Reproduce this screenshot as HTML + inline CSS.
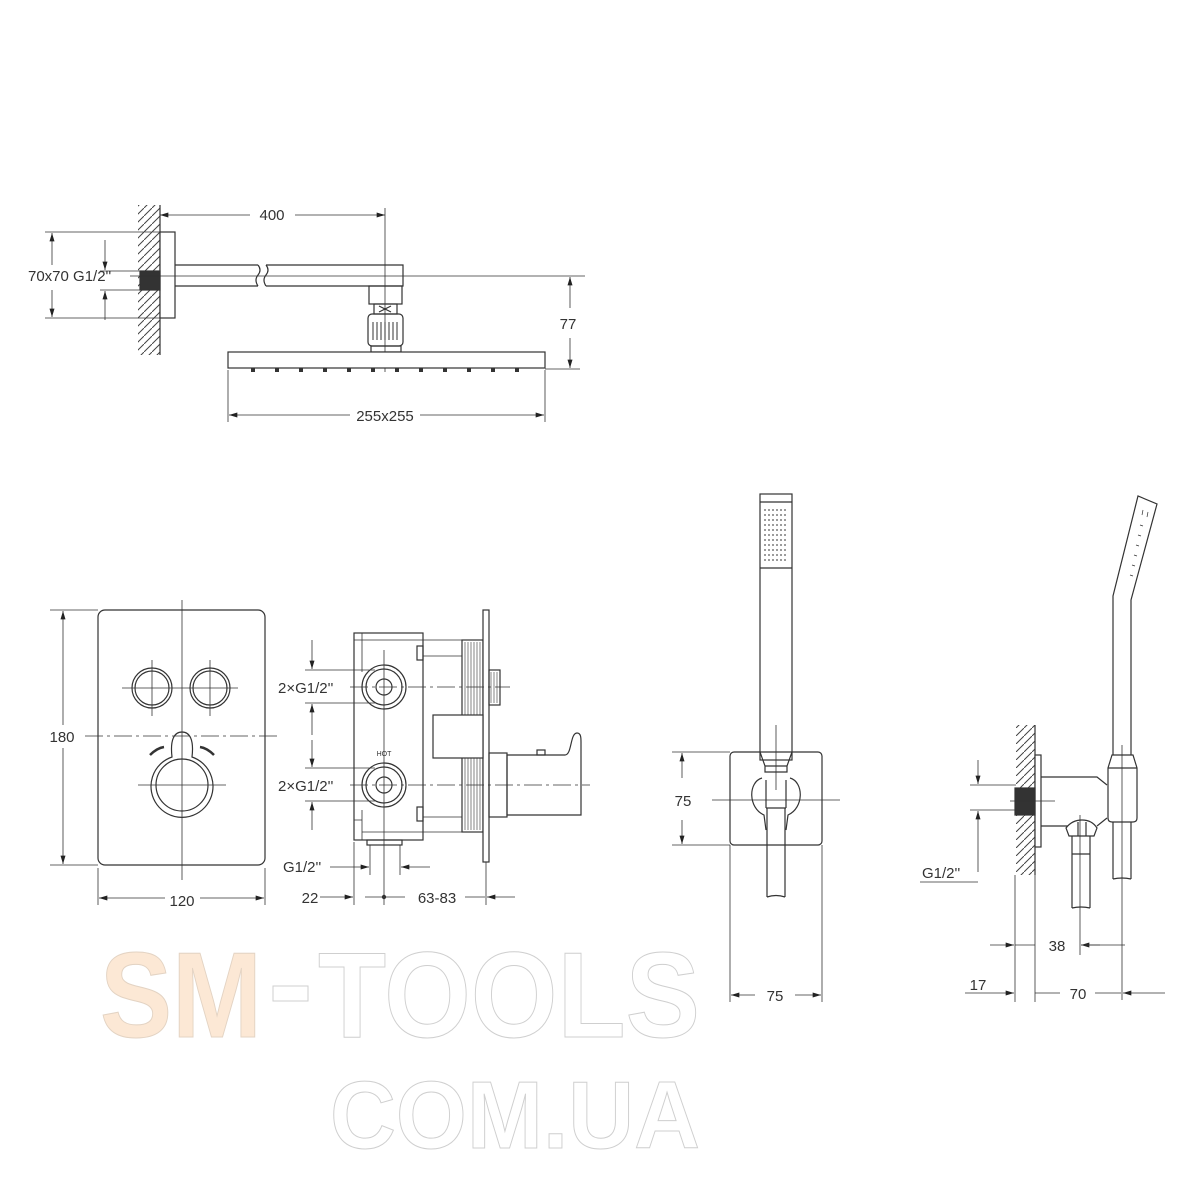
<!DOCTYPE html>
<html><head><meta charset="utf-8"><style>
html,body{margin:0;padding:0;background:#fff}
svg{display:block}
text{font-family:"Liberation Sans",sans-serif}
.l{fill:#333}
</style></head><body>
<svg width="1200" height="1200" viewBox="0 0 1200 1200" xmlns="http://www.w3.org/2000/svg">
<defs>
<marker id="a" viewBox="0 0 10 6" refX="10" refY="3" markerWidth="12" markerHeight="5" orient="auto-start-reverse" markerUnits="userSpaceOnUse"><path d="M0,0L10,3L0,6z" fill="#222"/></marker>
<pattern id="h" width="8" height="8" patternUnits="userSpaceOnUse"><path d="M-2,10L10,-2" stroke="#444" stroke-width="1"/></pattern>
</defs>
<g stroke="#333" stroke-width="1.2" fill="none">
<rect x="138" y="205" width="22" height="150" fill="url(#h)" stroke="none"/>
<line x1="160" y1="205" x2="160" y2="355"/>
<rect x="160" y="232" width="15" height="86" fill="#fff"/>
<rect x="140" y="271" width="20" height="19" fill="#333"/>
<path d="M175,265H258M266,265H403V286H266M258,286H175"/>
<path d="M258,265q4,5 0,10q-4,5 0,11M266,265q4,5 0,10q-4,5 0,11"/>
<line x1="130" y1="276" x2="585" y2="276" stroke-width="0.8"/>
<line x1="385" y1="208" x2="385" y2="372" stroke-width="0.8"/>
<rect x="369" y="286" width="33" height="18"/>
<rect x="374" y="304" width="23" height="10"/>
<path d="M379,306l12,6M391,306l-12,6"/>
<rect x="368" y="314" width="35" height="32" rx="4"/>
<path d="M373,322V340M377,322V340M381,322V340M385,322V340M389,322V340M393,322V340M397,322V340" stroke-width="1"/>
<rect x="371" y="346" width="30" height="6"/>
<rect x="228" y="352" width="317" height="16" fill="#fff"/>
<g fill="#333" stroke="none">
<rect x="251" y="368" width="4" height="4"/><rect x="275" y="368" width="4" height="4"/><rect x="299" y="368" width="4" height="4"/><rect x="323" y="368" width="4" height="4"/><rect x="347" y="368" width="4" height="4"/><rect x="371" y="368" width="4" height="4"/><rect x="395" y="368" width="4" height="4"/><rect x="419" y="368" width="4" height="4"/><rect x="443" y="368" width="4" height="4"/><rect x="467" y="368" width="4" height="4"/><rect x="491" y="368" width="4" height="4"/><rect x="515" y="368" width="4" height="4"/>
</g>
<g stroke-width="0.8">
<line x1="160" y1="215" x2="250" y2="215" marker-start="url(#a)"/><line x1="295" y1="215" x2="385" y2="215" marker-end="url(#a)"/>
<line x1="545" y1="369" x2="580" y2="369"/>
<line x1="570" y1="277" x2="570" y2="308" marker-start="url(#a)"/><line x1="570" y1="338" x2="570" y2="368" marker-end="url(#a)"/>
<line x1="228" y1="370" x2="228" y2="422"/><line x1="545" y1="370" x2="545" y2="422"/>
<line x1="229" y1="415" x2="350" y2="415" marker-start="url(#a)"/><line x1="420" y1="415" x2="544" y2="415" marker-end="url(#a)"/>
<line x1="45" y1="232" x2="160" y2="232"/><line x1="45" y1="318" x2="160" y2="318"/>
<line x1="52" y1="233" x2="52" y2="265" marker-start="url(#a)"/><line x1="52" y1="290" x2="52" y2="317" marker-end="url(#a)"/>
<line x1="100" y1="271" x2="141" y2="271"/><line x1="100" y1="290" x2="141" y2="290"/>
<line x1="105" y1="240" x2="105" y2="270" marker-end="url(#a)"/><line x1="105" y1="320" x2="105" y2="291" marker-end="url(#a)"/>
</g>
<rect x="98" y="610" width="167" height="255" rx="7"/>
<g stroke-width="0.8">
<line x1="182" y1="600" x2="182" y2="880"/>
<line x1="85" y1="736" x2="280" y2="736" stroke-dasharray="18,4,3,4"/>
<line x1="122" y1="688" x2="238" y2="688"/><line x1="152" y1="660" x2="152" y2="716"/><line x1="210" y1="660" x2="210" y2="716"/>
<line x1="138" y1="785" x2="226" y2="785"/>
</g>
<circle cx="152" cy="688" r="20"/><circle cx="152" cy="688" r="17"/>
<circle cx="210" cy="688" r="20"/><circle cx="210" cy="688" r="17"/>
<path d="M172,757C170,740 174,732 182,732C190,732 194,740 192,757A31,31 0 1 1 172,757Z"/>
<circle cx="182" cy="785" r="26"/>
<path d="M150,755q7,-7 14,-8M200,747q7,1 14,8" stroke-width="2.5"/>
<g stroke-width="0.8">
<line x1="50" y1="610" x2="98" y2="610"/><line x1="50" y1="865" x2="98" y2="865"/>
<line x1="63" y1="611" x2="63" y2="725" marker-start="url(#a)"/><line x1="63" y1="748" x2="63" y2="864" marker-end="url(#a)"/>
<line x1="98" y1="868" x2="98" y2="905"/><line x1="265" y1="868" x2="265" y2="905"/>
<line x1="99" y1="898" x2="165" y2="898" marker-start="url(#a)"/><line x1="200" y1="898" x2="264" y2="898" marker-end="url(#a)"/>
</g>
<rect x="354" y="633" width="69" height="207"/>
<path d="M354,640H362M362,633V672M362,640H423M354,820H362M362,810V840M362,832H423" stroke-width="0.8"/>
<rect x="417" y="646" width="6" height="14"/><rect x="417" y="807" width="6" height="14"/>
<path d="M423,640H462M423,656H462M423,817H462M423,832H462" stroke-width="0.8"/>
<rect x="462" y="640" width="21" height="192"/>
<path d="M465,642V830M468,642V830M471,642V830M474,642V830M477,642V830M480,642V830" stroke-width="0.6"/>
<rect x="483" y="610" width="6" height="252" fill="#fff"/>
<rect x="489" y="670" width="11" height="35"/>
<path d="M491,672V703M494,672V703M497,672V703" stroke-width="0.6"/>
<rect x="433" y="715" width="50" height="43" fill="#fff"/>
<rect x="489" y="753" width="18" height="64"/>
<path d="M507,755H565C572,755 570,733 577,733C581,733 581,738 581,742V815H507Z"/>
<rect x="537" y="750" width="8" height="5"/>
<circle cx="384" cy="687" r="22"/><circle cx="384" cy="687" r="18"/><circle cx="384" cy="687" r="8"/>
<circle cx="384" cy="785" r="22"/><circle cx="384" cy="785" r="18"/><circle cx="384" cy="785" r="8"/>
<rect x="367" y="840" width="35" height="5"/>
<g stroke-width="0.8">
<line x1="384" y1="650" x2="384" y2="905"/>
<line x1="350" y1="687" x2="510" y2="687" stroke-dasharray="18,4,3,4"/>
<line x1="350" y1="785" x2="590" y2="785" stroke-dasharray="18,4,3,4"/>
<line x1="305" y1="670" x2="375" y2="670"/><line x1="305" y1="703" x2="375" y2="703"/>
<line x1="312" y1="640" x2="312" y2="669" marker-end="url(#a)"/><line x1="312" y1="735" x2="312" y2="704" marker-end="url(#a)"/>
<line x1="305" y1="768" x2="375" y2="768"/><line x1="305" y1="801" x2="375" y2="801"/>
<line x1="312" y1="740" x2="312" y2="767" marker-end="url(#a)"/><line x1="312" y1="830" x2="312" y2="802" marker-end="url(#a)"/>
<line x1="354" y1="842" x2="354" y2="905"/><line x1="370" y1="845" x2="370" y2="875"/><line x1="400" y1="845" x2="400" y2="875"/><line x1="486" y1="862" x2="486" y2="905"/>
<line x1="330" y1="867" x2="369" y2="867" marker-end="url(#a)"/><line x1="430" y1="867" x2="401" y2="867" marker-end="url(#a)"/>
<line x1="320" y1="897" x2="353" y2="897" marker-end="url(#a)"/><line x1="365" y1="897" x2="405" y2="897"/>
<line x1="465" y1="897" x2="485" y2="897"/><line x1="515" y1="897" x2="487" y2="897" marker-end="url(#a)"/>
</g>
<circle cx="384" cy="897" r="1.6" fill="#333"/>
<rect x="760" y="494" width="32" height="266"/>
<line x1="760" y1="502" x2="792" y2="502"/><line x1="760" y1="568" x2="792" y2="568"/>
<rect x="730" y="752" width="92" height="93" rx="4"/>
<path d="M760,752L765,766H787L792,752M765,766V772H787V766"/>
<path d="M762,778C748,782 748,808 764,815L766,830M790,778C804,782 804,808 788,815L786,830" fill="#fff"/>
<path d="M766,780V808M786,780V808"/>
<path d="M766,808H786M767,808V897M785,808V897M767,897q9,-3 18,0"/>
<g stroke-width="0.8">
<line x1="776" y1="725" x2="776" y2="790"/>
<line x1="712" y1="800" x2="840" y2="800"/>
<line x1="672" y1="752" x2="730" y2="752"/><line x1="672" y1="845" x2="730" y2="845"/>
<line x1="682" y1="778" x2="682" y2="753" marker-end="url(#a)"/><line x1="682" y1="820" x2="682" y2="844" marker-end="url(#a)"/>
<line x1="730" y1="845" x2="730" y2="1002"/><line x1="822" y1="845" x2="822" y2="1002"/>
<line x1="731" y1="995" x2="755" y2="995" marker-start="url(#a)"/><line x1="795" y1="995" x2="821" y2="995" marker-end="url(#a)"/>
</g>
<g fill="#555" stroke="none">
<g id="dr"><circle cx="765" cy="510" r="0.9"/><circle cx="769" cy="510" r="0.9"/><circle cx="773" cy="510" r="0.9"/><circle cx="777" cy="510" r="0.9"/><circle cx="781" cy="510" r="0.9"/><circle cx="785" cy="510" r="0.9"/></g>
<use href="#dr" y="5"/><use href="#dr" y="10"/><use href="#dr" y="15"/><use href="#dr" y="20"/><use href="#dr" y="25"/><use href="#dr" y="30"/><use href="#dr" y="35"/><use href="#dr" y="40"/><use href="#dr" y="45"/><use href="#dr" y="50"/>
</g>
<rect x="1016" y="725" width="19" height="150" fill="url(#h)" stroke="none"/>
<line x1="1035" y1="725" x2="1035" y2="875"/>
<rect x="1035" y="755" width="6" height="92" fill="#fff"/>
<rect x="1015" y="788" width="20" height="27" fill="#333"/>
<path d="M1041,777H1097L1107,785"/>
<path d="M1041,826H1068M1097,826L1107,818"/>
<path d="M1112,755L1108,768V818Q1108,822 1112,822H1133Q1137,822 1137,818V768L1133,755Z"/>
<line x1="1108" y1="768" x2="1137" y2="768"/>
<path d="M1113,755V596L1138,496L1157,504L1131,600V755"/>
<path d="M1143,510l-1,5M1148,512l-1,5M1140,525l3,1M1138,535l3,1M1136,545l3,1M1134,555l3,1M1132,565l3,1M1130,575l3,1" stroke-width="0.7"/>
<path d="M1113,822V879M1131,822V879M1113,879q9,-2 18,0"/>
<path d="M1066,828Q1072,820 1082,820Q1092,820 1097,828L1094,836H1069Z" fill="#fff"/>
<path d="M1078,822V836M1086,822V836"/>
<path d="M1072,836V908M1090,836V908M1072,854H1090M1072,908q9,-2 18,0"/>
<g stroke-width="0.8">
<line x1="1010" y1="801" x2="1055" y2="801"/>
<line x1="1122" y1="745" x2="1122" y2="1000"/>
<line x1="1080" y1="815" x2="1080" y2="955"/>
<line x1="970" y1="785" x2="1016" y2="785"/><line x1="970" y1="810" x2="1016" y2="810"/>
<line x1="978" y1="760" x2="978" y2="784" marker-end="url(#a)"/><line x1="978" y1="872" x2="978" y2="811" marker-end="url(#a)"/>
<line x1="920" y1="882" x2="978" y2="882"/>
<line x1="1015" y1="875" x2="1015" y2="1002"/><line x1="1035" y1="875" x2="1035" y2="1002"/>
<line x1="990" y1="945" x2="1014" y2="945" marker-end="url(#a)"/><line x1="1015" y1="945" x2="1035" y2="945"/>
<line x1="1100" y1="945" x2="1081" y2="945" marker-end="url(#a)"/><line x1="1081" y1="945" x2="1125" y2="945"/>
<line x1="965" y1="993" x2="1014" y2="993" marker-end="url(#a)"/><line x1="1035" y1="993" x2="1060" y2="993"/>
<line x1="1095" y1="993" x2="1121" y2="993"/><line x1="1165" y1="993" x2="1123" y2="993" marker-end="url(#a)"/>
</g>
</g>
<g font-size="15" class="l">
<text class="l" x="272" y="220" text-anchor="middle">400</text>
<text class="l" x="28" y="281">70x70 G1/2''</text>
<text class="l" x="568" y="329" text-anchor="middle">77</text>
<text class="l" x="385" y="421" text-anchor="middle">255x255</text>
<text class="l" x="62" y="742" text-anchor="middle">180</text>
<text class="l" x="182" y="906" text-anchor="middle">120</text>
<text class="l" x="278" y="693">2×G1/2''</text>
<text class="l" x="278" y="791">2×G1/2''</text>
<text class="l" x="283" y="872">G1/2''</text>
<text class="l" x="310" y="903" text-anchor="middle">22</text>
<text class="l" x="437" y="903" text-anchor="middle">63-83</text>
<text class="l" x="683" y="806" text-anchor="middle">75</text>
<text class="l" x="775" y="1001" text-anchor="middle">75</text>
<text class="l" x="922" y="878">G1/2''</text>
<text class="l" x="1057" y="951" text-anchor="middle">38</text>
<text class="l" x="978" y="990" text-anchor="middle">17</text>
<text class="l" x="1078" y="999" text-anchor="middle">70</text>
</g>
<text class="l" x="384" y="756" font-size="7" text-anchor="middle">HOT</text>
<text x="100" y="1037" font-size="122" font-weight="bold" textLength="162" lengthAdjust="spacingAndGlyphs" style="fill:#fce8d5;stroke:#e3d3c3;stroke-width:1">SM</text>
<rect x="273" y="986" width="35" height="15" style="fill:#fff;stroke:#cfcfcf;stroke-width:1"/>
<text x="318" y="1037" font-size="122" font-weight="bold" textLength="382" lengthAdjust="spacingAndGlyphs" style="fill:#fff;stroke:#cfcfcf;stroke-width:1">TOOLS</text>
<text x="330" y="1148" font-size="96" font-weight="bold" textLength="370" lengthAdjust="spacingAndGlyphs" style="fill:#fff;stroke:#cfcfcf;stroke-width:1">COM.UA</text>
</svg>
</body></html>
